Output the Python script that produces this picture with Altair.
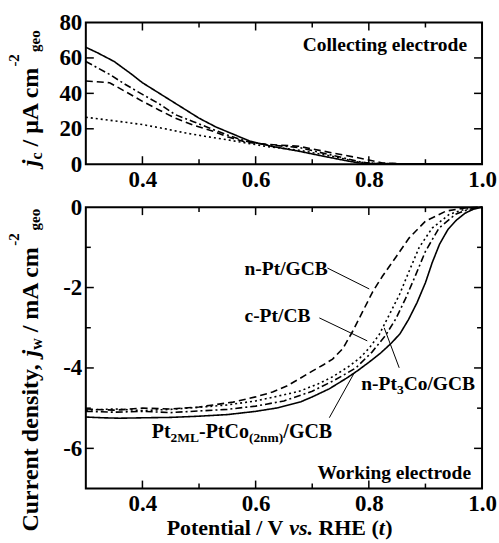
import altair as alt
import pandas as pd

FONT = "Liberation Serif"

# ---------------- data ----------------
series = ["Pt2ML-PtCo(2nm)/GCB", "n-Pt3Co/GCB", "c-Pt/CB", "n-Pt/GCB"]
dash_styles = [[1, 0], [7, 3, 2, 3], [2, 3], [7, 4]]

# Collecting electrode (top panel), j_c in uA cm-2
top_solid_v = [0.30, 0.32, 0.35, 0.38, 0.40, 0.44, 0.47, 0.50, 0.53, 0.56, 0.59, 0.63, 0.677, 0.72, 0.76, 0.783, 0.80, 0.85, 0.90, 0.95, 1.00]
top_solid_j = [66, 63, 58, 51, 46, 38, 32, 26, 21, 17, 13, 10, 7.3, 4.5, 2.0, 0.7, 0.3, 0.2, 0.2, 0.2, 0.2]
top_dashdot_v = [0.30, 0.342, 0.37, 0.40, 0.43, 0.458, 0.49, 0.518, 0.55, 0.583, 0.62, 0.677, 0.735, 0.783, 0.80, 0.85, 0.90, 0.95, 1.00]
top_dashdot_j = [58, 50.7, 45, 39.4, 34, 28, 24, 20.5, 16.5, 13, 11, 9.4, 5.1, 1.5, 0.5, 0.3, 0.3, 0.3, 0.3]
top_dotted_v = [0.30, 0.35, 0.40, 0.44, 0.477, 0.51, 0.548, 0.583, 0.62, 0.677, 0.735, 0.783, 0.82, 0.85, 0.90, 0.95, 1.00]
top_dotted_j = [26.5, 24.5, 22.4, 20, 17.6, 15.8, 13.9, 12, 10, 7.9, 4.5, 1.1, 0.4, 0.3, 0.3, 0.3, 0.3]
top_dashed_v = [0.30, 0.342, 0.37, 0.40, 0.43, 0.458, 0.49, 0.525, 0.55, 0.583, 0.62, 0.677, 0.735, 0.783, 0.824, 0.85, 0.90, 0.95, 1.00]
top_dashed_j = [47, 46, 41, 35.5, 30.5, 26, 22, 18.6, 15.5, 12.5, 11.2, 10.1, 6.4, 3.5, 0.7, 0.3, 0.3, 0.3, 0.3]

# Working electrode (bottom panel), j_w in mA cm-2
bot_solid_v = [0.30, 0.33, 0.36, 0.40, 0.45, 0.50, 0.55, 0.60, 0.64, 0.68, 0.70, 0.73, 0.76, 0.78, 0.80, 0.82, 0.84, 0.855, 0.87, 0.885, 0.90, 0.912, 0.925, 0.94, 0.955, 0.97, 0.985, 1.00]
bot_solid_j = [-5.22, -5.24, -5.25, -5.24, -5.23, -5.20, -5.16, -5.08, -4.99, -4.84, -4.72, -4.52, -4.26, -4.07, -3.86, -3.64, -3.38, -3.15, -2.80, -2.38, -1.88, -1.38, -0.92, -0.55, -0.32, -0.15, -0.05, 0.0]
bot_dashdot_v = [0.30, 0.35, 0.40, 0.45, 0.50, 0.55, 0.60, 0.65, 0.70, 0.74, 0.777, 0.806, 0.83, 0.848, 0.865, 0.883, 0.90, 0.924, 0.953, 0.975, 1.00]
bot_dashdot_j = [-5.08, -5.10, -5.08, -5.11, -5.07, -5.03, -4.95, -4.82, -4.58, -4.30, -4.00, -3.60, -3.18, -2.77, -2.27, -1.68, -1.10, -0.52, -0.18, -0.06, 0.0]
bot_dotted_v = [0.30, 0.35, 0.40, 0.45, 0.50, 0.55, 0.60, 0.64, 0.677, 0.71, 0.736, 0.766, 0.785, 0.801, 0.818, 0.836, 0.854, 0.871, 0.889, 0.912, 0.942, 0.97, 1.00]
bot_dotted_j = [-5.05, -5.02, -5.06, -5.03, -4.98, -4.92, -4.82, -4.70, -4.58, -4.40, -4.22, -3.95, -3.74, -3.50, -3.18, -2.68, -2.18, -1.60, -1.00, -0.52, -0.18, -0.05, 0.0]
bot_dashed_v = [0.30, 0.35, 0.40, 0.45, 0.50, 0.56, 0.60, 0.63, 0.655, 0.677, 0.70, 0.72, 0.736, 0.754, 0.771, 0.789, 0.807, 0.824, 0.848, 0.871, 0.90, 0.936, 0.97, 1.00]
bot_dashed_j = [-5.02, -5.05, -5.00, -5.02, -4.97, -4.85, -4.72, -4.60, -4.45, -4.27, -4.08, -3.92, -3.78, -3.52, -3.10, -2.60, -2.10, -1.72, -1.24, -0.77, -0.35, -0.10, -0.02, 0.0]

x_labels = [0.4, 0.6, 0.8, 1.0]
x_major = [0.4, 0.6, 0.8]
x_minor = [0.5, 0.7, 0.9]
top_y_labels = [0, 20, 40, 60, 80]
top_y_major = [20, 40, 60]
bot_y_labels = [0, -2, -4, -6]
bot_y_major = [-2, -4, -6]
bot_y_minor = [-1, -3, -5]


def long_df(pairs):
    frames = []
    for name, v, j in pairs:
        frames.append(pd.DataFrame({"V": v, "j": j, "series": name}))
    return pd.concat(frames, ignore_index=True)


top_df = long_df([
    (series[0], top_solid_v, top_solid_j),
    (series[1], top_dashdot_v, top_dashdot_j),
    (series[2], top_dotted_v, top_dotted_j),
    (series[3], top_dashed_v, top_dashed_j),
])
bot_df = long_df([
    (series[0], bot_solid_v, bot_solid_j),
    (series[1], bot_dashdot_v, bot_dashdot_j),
    (series[2], bot_dotted_v, bot_dotted_j),
    (series[3], bot_dashed_v, bot_dashed_j),
])

W = 397
H_TOP = 142
H_BOT = 282
MAJ = 8
MIN = 5

xscale = alt.Scale(domain=[0.3, 1.0], nice=False, zero=False)
one = pd.DataFrame({"k": [0]})


def xaxis():
    return alt.Axis(values=x_labels, format=".1f", title=None, labelFlush=False,
                    labelOverlap=False, labelPadding=4)


def tick_rule(df):
    return alt.Chart(df).mark_rule(color="black", strokeWidth=1.5)


def xticks(values, length, H):
    df = pd.DataFrame({"V": values})
    b = tick_rule(df).encode(
        x=alt.X("V:Q", scale=xscale, axis=xaxis()), y=alt.value(H), y2=alt.value(H - length))
    t = tick_rule(df).encode(
        x=alt.X("V:Q", scale=xscale, axis=xaxis()), y=alt.value(0), y2=alt.value(length))
    return [b, t]


def yticks(values, length, yscale, yaxis):
    df = pd.DataFrame({"j": values})
    l = tick_rule(df).encode(
        y=alt.Y("j:Q", scale=yscale, axis=yaxis), x=alt.value(0), x2=alt.value(length))
    r = tick_rule(df).encode(
        y=alt.Y("j:Q", scale=yscale, axis=yaxis), x=alt.value(W), x2=alt.value(W - length))
    return [l, r]


def lines(df, yscale, yaxis):
    return alt.Chart(df).mark_line(color="black", strokeWidth=1.6).encode(
        x=alt.X("V:Q", scale=xscale, axis=xaxis()),
        y=alt.Y("j:Q", scale=yscale, axis=yaxis),
        strokeDash=alt.StrokeDash("series:N", scale=alt.Scale(domain=series, range=dash_styles), legend=None),
        detail="series:N",
    )


def txt(s, x, y, size, italic=False, angle=None, align="left"):
    kw = dict(text=s, font=FONT, fontSize=size, fontWeight="bold", align=align,
              baseline="alphabetic", color="black")
    if italic:
        kw["fontStyle"] = "italic"
    if angle is not None:
        kw["angle"] = angle
    return alt.Chart(one).mark_text(**kw).encode(x=alt.value(x), y=alt.value(y))


def seg(x1, y1, x2, y2):
    return alt.Chart(one).mark_rule(color="black", strokeWidth=1).encode(
        x=alt.value(x1), y=alt.value(y1), x2=alt.value(x2), y2=alt.value(y2))


# ---------------- top panel ----------------
top_yscale = alt.Scale(domain=[0, 80], nice=False)
top_yaxis = alt.Axis(values=top_y_labels, title=None, labelPadding=4, labelOverlap=False)

BX = -48  # baseline of rotated titles
top_layers = [lines(top_df, top_yscale, top_yaxis)]
top_layers += xticks(x_major, MAJ, H_TOP) + xticks(x_minor, MIN, H_TOP)
top_layers += yticks(top_y_major, MAJ, top_yscale, top_yaxis)
top_layers += [
    txt("Collecting electrode", 382, 29, 19.5, align="right"),
    txt("j", BX, 144, 24, italic=True, angle=270),
    txt("c", BX + 4, 137.3, 16, angle=270),
    txt("/ μA cm", BX, 124.2, 24, angle=270),
    txt("-2", BX - 19, 44.2, 15, angle=270),
    txt("geo", BX + 2, 29.5, 15, angle=270),
]
top = alt.layer(*top_layers).properties(width=W, height=H_TOP)

# ---------------- bottom panel ----------------
bot_yscale = alt.Scale(domain=[-7, 0], nice=False)
bot_yaxis = alt.Axis(values=bot_y_labels, title=None, labelPadding=4, labelOverlap=False,
                     labelExpr="'' + datum.value")

bot_layers = [lines(bot_df, bot_yscale, bot_yaxis)]
bot_layers += xticks(x_major, MAJ, H_BOT) + xticks(x_minor, MIN, H_BOT)
bot_layers += yticks(bot_y_major, MAJ, bot_yscale, bot_yaxis) + yticks(bot_y_minor, MIN, bot_yscale, bot_yaxis)
bot_layers += [
    txt("Working electrode", 386, 272, 19.5, align="right"),
    # curve labels
    txt("n-Pt/GCB", 159, 68, 19.5),
    seg(242, 61, 284, 82),
    txt("c-Pt/CB", 159, 115, 19.5),
    seg(234, 111, 282, 134),
    txt("n-Pt", 276, 183, 19.5),
    txt("3", 276 + 35.7, 187, 13.5),
    txt("Co/GCB", 276 + 42.5, 183, 19.5),
    seg(314, 161, 299, 121),
    txt("Pt", 66, 231, 20),
    txt("2ML", 66 + 18.9, 235, 13.5),
    txt("-PtCo", 66 + 47.4, 231, 20),
    txt("(2nm)", 66 + 97.4, 235, 13.5),
    txt("/GCB", 66 + 131.9, 231, 20),
    seg(244, 211, 269, 166),
    # x-axis title
    txt("Potential / V", 81, 329, 22),
    txt("vs.", 203.8, 329, 22, italic=True),
    txt("RHE (", 233.1, 329, 22),
    txt("t", 293.6, 329, 22, italic=True),
    txt(")", 299.9, 329, 22),
    # y-axis title
    txt("Current density,", BX, 325, 24, angle=270),
    txt("j", BX, 149.7, 24, italic=True, angle=270),
    txt("w", BX + 4, 143.0, 16, angle=270),
    txt("/ mA cm", BX, 125.4, 24, angle=270),
    txt("-2", BX - 19, 38.8, 15, angle=270),
    txt("geo", BX + 2, 23.3, 15, angle=270),
]
bottom = alt.layer(*bot_layers).properties(width=W, height=H_BOT)

chart = alt.vconcat(top, bottom, spacing=43, bounds="flush").properties(
    padding={"left": 6, "top": 10, "right": 1, "bottom": 2}
).configure_view(
    stroke="black", strokeWidth=2
).configure_axis(
    labelFont=FONT, labelFontSize=23, labelFontWeight="bold", labelColor="black",
    ticks=False, domain=False, grid=False
)

chart.save("out.html", embed_options={"renderer": "svg", "actions": False})
